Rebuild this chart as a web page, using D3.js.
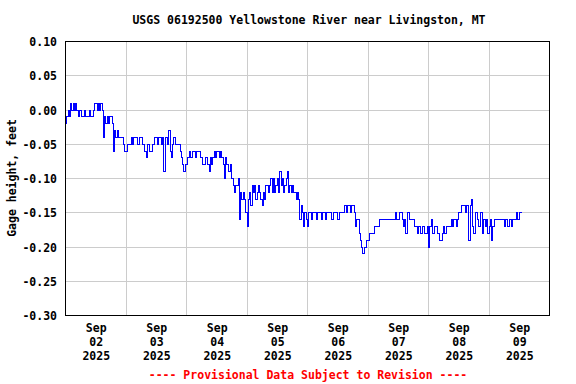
<!DOCTYPE html>
<html>
<head>
<meta charset="utf-8">
<script src="https://cdn.jsdelivr.net/npm/d3@7"></script>
<style>
  body { margin: 0; background: #fff; }
  text { font-family: "DejaVu Sans Mono", "Liberation Mono", monospace; font-weight: bold; font-size: 11.5px; }
</style>
</head>
<body>
<div id="chart"></div>
<script>
// Station / titles
const chartTitle = "USGS 06192500 Yellowstone River near Livingston, MT";
const yLabel = "Gage height, feet";
const footer = "---- Provisional Data Subject to Revision ----";

// Half-hourly readings starting Sep 02 2025 00:00 (feet), one row per 5 hours
const seriesStart = new Date(2025, 8, 2, 0, 0);
const stepMinutes = 30;
const gageHeight = [
  -0.02, -0.01, 0.00, -0.01, 0.01, 0.00, 0.01, 0.00, 0.01, 0.00,
  -0.01, 0.00, 0.00, -0.01, -0.01, 0.00, -0.01, -0.01, -0.01, 0.00,
  -0.01, -0.01, 0.00, 0.01, 0.01, 0.00, 0.01, 0.00, 0.01, 0.00,
  -0.04, -0.01, -0.02, -0.01, -0.02, -0.01, -0.01, -0.02, -0.06, -0.03,
  -0.04, -0.03, -0.04, -0.04, -0.04, -0.04, -0.05, -0.06, -0.06, -0.05,
  -0.05, -0.05, -0.04, -0.05, -0.04, -0.04, -0.04, -0.05, -0.05, -0.04,
  -0.04, -0.05, -0.05, -0.06, -0.07, -0.05, -0.05, -0.06, -0.06, -0.05,
  -0.05, -0.04, -0.04, -0.05, -0.04, -0.04, -0.05, -0.04, -0.09, -0.04,
  -0.04, -0.05, -0.03, -0.06, -0.07, -0.05, -0.04, -0.05, -0.05, -0.05,
  -0.05, -0.06, -0.07, -0.08, -0.09, -0.08, -0.08, -0.07, -0.06, -0.07,
  -0.07, -0.06, -0.06, -0.07, -0.06, -0.06, -0.06, -0.07, -0.07, -0.08,
  -0.08, -0.07, -0.07, -0.08, -0.09, -0.07, -0.08, -0.07, -0.06, -0.07,
  -0.06, -0.06, -0.07, -0.06, -0.07, -0.08, -0.10, -0.07, -0.08, -0.09,
  -0.09, -0.08, -0.10, -0.11, -0.12, -0.11, -0.11, -0.10, -0.16, -0.12,
  -0.13, -0.12, -0.13, -0.15, -0.17, -0.13, -0.12, -0.14, -0.11, -0.12,
  -0.11, -0.13, -0.12, -0.11, -0.12, -0.13, -0.14, -0.12, -0.13, -0.11,
  -0.11, -0.12, -0.11, -0.10, -0.12, -0.10, -0.12, -0.11, -0.10, -0.12,
  -0.09, -0.11, -0.10, -0.12, -0.11, -0.10, -0.09, -0.12, -0.11, -0.12,
  -0.11, -0.12, -0.12, -0.13, -0.12, -0.13, -0.16, -0.14, -0.15, -0.17,
  -0.15, -0.16, -0.17, -0.15, -0.15, -0.16, -0.15, -0.15, -0.15, -0.16,
  -0.15, -0.15, -0.15, -0.16, -0.15, -0.15, -0.16, -0.15, -0.15, -0.15,
  -0.15, -0.16, -0.16, -0.15, -0.15, -0.15, -0.16, -0.15, -0.15, -0.15,
  -0.15, -0.14, -0.14, -0.15, -0.14, -0.14, -0.15, -0.14, -0.14, -0.15,
  -0.17, -0.16, -0.16, -0.18, -0.19, -0.20, -0.21, -0.20, -0.20, -0.19,
  -0.19, -0.18, -0.18, -0.18, -0.18, -0.17, -0.17, -0.17, -0.17, -0.16,
  -0.16, -0.16, -0.16, -0.16, -0.16, -0.16, -0.16, -0.16, -0.16, -0.16,
  -0.16, -0.16, -0.15, -0.16, -0.16, -0.15, -0.15, -0.16, -0.17, -0.16,
  -0.18, -0.15, -0.15, -0.16, -0.16, -0.16, -0.16, -0.17, -0.17, -0.18,
  -0.17, -0.17, -0.18, -0.17, -0.17, -0.18, -0.18, -0.17, -0.20, -0.17,
  -0.16, -0.18, -0.18, -0.17, -0.17, -0.18, -0.18, -0.19, -0.19, -0.18,
  -0.17, -0.18, -0.17, -0.17, -0.17, -0.17, -0.16, -0.17, -0.16, -0.16,
  -0.17, -0.16, -0.15, -0.15, -0.14, -0.14, -0.14, -0.15, -0.14, -0.14,
  -0.19, -0.14, -0.13, -0.17, -0.18, -0.15, -0.15, -0.16, -0.17, -0.15,
  -0.15, -0.18, -0.16, -0.17, -0.16, -0.18, -0.17, -0.16, -0.19, -0.17,
  -0.16, -0.16, -0.16, -0.16, -0.16, -0.16, -0.16, -0.16, -0.17, -0.16,
  -0.16, -0.17, -0.16, -0.16, -0.17, -0.16, -0.16, -0.16, -0.15, -0.16,
  -0.15, -0.15, -0.15
];

// Axis ticks
const yTicks = [0.10, 0.05, 0.00, -0.05, -0.10, -0.15, -0.20, -0.25, -0.30];
const tickMonth = "Sep";
const tickDays = ["02", "03", "04", "05", "06", "07", "08", "09"];
const tickYear = "2025";

const width = 576, height = 384;
const plot = { left: 65, right: 549, top: 41, bottom: 315 };

const svg = d3.select("#chart").append("svg")
  .attr("width", width)
  .attr("height", height)
  .style("display", "block");

const x = d3.scaleTime()
  .domain([new Date(2025, 8, 2), new Date(2025, 8, 10)])
  .range([plot.left, plot.right]);

const y = d3.scaleLinear()
  .domain([-0.30, 0.10])
  .range([plot.bottom, plot.top]);

const days = d3.timeDay.range(new Date(2025, 8, 2), new Date(2025, 8, 10));

// grid
svg.append("g").selectAll("line")
  .data(yTicks)
  .enter().append("line")
  .attr("x1", plot.left).attr("x2", plot.right)
  .attr("y1", d => Math.round(y(d)) + 0.5)
  .attr("y2", d => Math.round(y(d)) + 0.5)
  .attr("stroke", "#cccccc");

svg.append("g").selectAll("line")
  .data(days.slice(1))
  .enter().append("line")
  .attr("y1", plot.top).attr("y2", plot.bottom)
  .attr("x1", d => Math.round(x(d)) + 0.5)
  .attr("x2", d => Math.round(x(d)) + 0.5)
  .attr("stroke", "#cccccc");

// data line
const data = gageHeight.map((v, i) => ({ t: d3.timeMinute.offset(seriesStart, i * stepMinutes), v: v }));

const line = d3.line()
  .x(d => Math.round(x(d.t)) + 0.5)
  .y(d => Math.round(y(d.v)) + 0.5)
  .curve(d3.curveStepAfter);

svg.append("path")
  .datum(data)
  .attr("d", line)
  .attr("fill", "none")
  .attr("stroke", "#0000ff")
  .attr("stroke-width", 1)
  .attr("shape-rendering", "crispEdges");

// frame
svg.append("rect")
  .attr("x", plot.left + 0.5).attr("y", plot.top + 0.5)
  .attr("width", plot.right - plot.left)
  .attr("height", plot.bottom - plot.top)
  .attr("fill", "none")
  .attr("stroke", "#000");

// y tick labels
svg.append("g").selectAll("text")
  .data(yTicks)
  .enter().append("text")
  .attr("x", 57)
  .attr("y", d => y(d) + 1)
  .attr("dy", "0.35em")
  .attr("text-anchor", "end")
  .text(d => d.toFixed(2));

// x tick labels (centered at noon), three lines each
const xl = svg.append("g").selectAll("g")
  .data(days)
  .enter().append("g")
  .attr("transform", d => "translate(" + (x(d3.timeHour.offset(d, 12)) + 1) + ",0)");

xl.append("text").attr("y", 332).attr("text-anchor", "middle").text(tickMonth);
xl.append("text").attr("y", 345.8).attr("text-anchor", "middle").text((d, i) => tickDays[i]);
xl.append("text").attr("y", 359.6).attr("text-anchor", "middle").text(tickYear);

// title
svg.append("text")
  .attr("x", (plot.left + plot.right) / 2 + 2)
  .attr("y", 24)
  .attr("text-anchor", "middle")
  .text(chartTitle);

// y label
svg.append("text")
  .attr("transform", "translate(16," + (plot.top + plot.bottom) / 2 + ") rotate(-90)")
  .attr("text-anchor", "middle")
  .text(yLabel);

// footer
svg.append("text")
  .attr("x", (plot.left + plot.right) / 2 + 1)
  .attr("y", 379)
  .attr("text-anchor", "middle")
  .attr("fill", "#ff0000")
  .text(footer);
</script>
</body>
</html>
